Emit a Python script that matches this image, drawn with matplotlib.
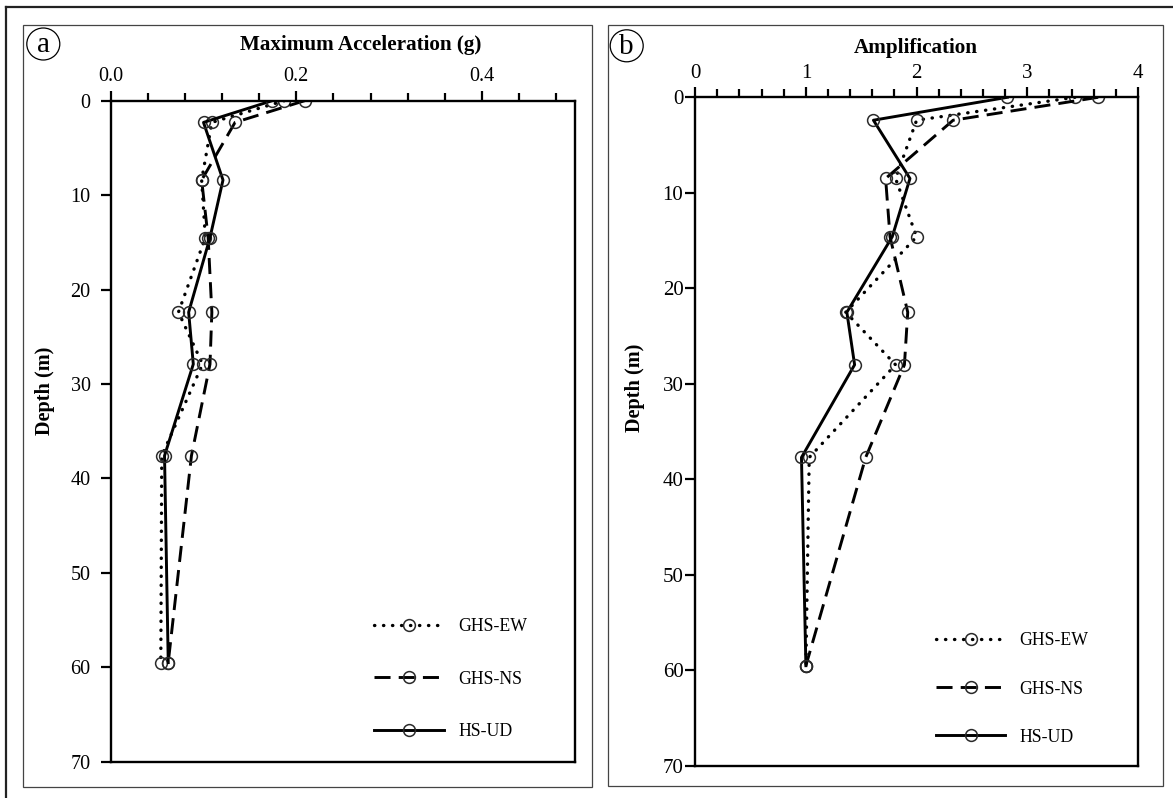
import matplotlib
matplotlib.use("Agg")
import matplotlib.pyplot as plt
from matplotlib.patches import Rectangle, Ellipse
from matplotlib.lines import Line2D
from matplotlib.ticker import MultipleLocator, FormatStrFormatter

plt.rcParams.update({
    "font.family": "Liberation Serif",
    "axes.linewidth": 1.7,
})

# figure size in pixels (saved at dpi=100)
W, H = 1173, 798

# ---- data -----------------------------------------------------------------
series = ["GHS-EW", "GHS-NS", "HS-UD"]

depth_a = [0, 2.3, 8.4, 14.5, 22.4, 27.9, 37.6, 59.5]
acc_ew = [0.187, 0.109, 0.098, 0.102, 0.073, 0.099, 0.055, 0.054]
acc_ns = [0.209, 0.134, 0.098, 0.105, 0.109, 0.107, 0.087, 0.062]
acc_ud = [0.174, 0.100, 0.121, 0.107, 0.084, 0.089, 0.058, 0.062]

depth_b = [0, 2.4, 8.5, 14.6, 22.5, 28.0, 37.7, 59.5]
amp_ew = [3.43, 2.00, 1.81, 2.00, 1.36, 1.81, 1.03, 1.00]
amp_ns = [3.64, 2.33, 1.72, 1.76, 1.92, 1.89, 1.54, 1.00]
amp_ud = [2.82, 1.61, 1.94, 1.78, 1.37, 1.44, 0.96, 1.00]

depth_ticks = [0, 10, 20, 30, 40, 50, 60, 70]

# line style per record
STYLE = {
    "GHS-EW": dict(ls=(0, (0.1, 2.6)), dash_capstyle="round", lw=2.4),
    "GHS-NS": dict(ls=(0, (5.5, 2.8)), lw=2.1),
    "HS-UD": dict(ls="-", lw=2.1),
}
MARK = dict(marker="o", ms=8.5, mfc="none", mec="#2a2a2a", mew=1.1)


def px_rect(left, top, right, bottom):
    return [left / W, 1 - bottom / H, (right - left) / W, (bottom - top) / H]


def fx(x):
    return x / W


def fy(y):
    return 1 - y / H


fig = plt.figure(figsize=(W / 100, H / 100), dpi=100)
ax_a = fig.add_axes(px_rect(110.7, 100.7, 574.7, 761.7))
ax_b = fig.add_axes(px_rect(695.2, 97.3, 1138.0, 766.0))


def draw_panel(ax, depth, vals, xlim, major, minor, fmt, tick_fs, ypad, xpad):
    for name, v in zip(series, vals):
        ax.plot(v, depth, color="k", label=name, **STYLE[name], **MARK)
    ax.set_xlim(*xlim)
    ax.set_ylim(70, 0)
    ax.set_yticks(depth_ticks)
    ax.xaxis.tick_top()
    ax.xaxis.set_major_locator(MultipleLocator(major))
    ax.xaxis.set_minor_locator(MultipleLocator(minor))
    ax.xaxis.set_major_formatter(FormatStrFormatter(fmt))
    ax.tick_params(axis="x", which="major", direction="out", length=7.5, width=1.6,
                   labelsize=tick_fs, pad=xpad)
    ax.tick_params(axis="x", which="minor", direction="out", length=6, width=1.6)
    ax.tick_params(axis="y", which="major", direction="out", length=7, width=1.6,
                   labelsize=tick_fs, pad=ypad)
    for s in ax.spines.values():
        s.set_color("k")


draw_panel(ax_a, depth_a, [acc_ew, acc_ns, acc_ud], (0, 0.5), 0.2, 0.04, "%.1f",
           14.5, 7.5, 3)
draw_panel(ax_b, depth_b, [amp_ew, amp_ns, amp_ud], (0, 4), 1, 0.2, "%d",
           15, 1.5, 3)

# legends (no frame, in the lower right of each panel)
ax_a.legend(loc="center left", bbox_to_anchor=(0.5685, 0.125), frameon=False,
            fontsize=12.8, handlelength=3.9, handletextpad=0.8, labelspacing=2.0,
            borderpad=0, borderaxespad=0, numpoints=1)
ax_b.legend(loc="center left", bbox_to_anchor=(0.5436, 0.115), frameon=False,
            fontsize=12.8, handlelength=3.9, handletextpad=0.8, labelspacing=1.75,
            borderpad=0, borderaxespad=0, numpoints=1)

# titles and axis labels placed as in the reference
fig.text(fx(361), fy(50), "Maximum Acceleration (g)", ha="center", va="baseline",
         fontsize=15.2, fontweight="bold")
fig.text(fx(916), fy(53), "Amplification", ha="center", va="baseline",
         fontsize=15.2, fontweight="bold")
fig.text(fx(45), fy(391), "Depth (m)", rotation=90, ha="center", va="center",
         fontsize=14.6, fontweight="bold")
fig.text(fx(634.6), fy(388), "Depth (m)", rotation=90, ha="center", va="center",
         fontsize=14.6, fontweight="bold")

# circled panel letters
for (cx, cy), letter in [((43.3, 44.0), "a"), ((626.7, 45.8), "b")]:
    fig.add_artist(Ellipse((fx(cx), fy(cy)), 33 / W, 32 / H, transform=fig.transFigure,
                           fill=False, ec="k", lw=0.9))
    fig.text(fx(cx), fy(cy + 1), letter, ha="center", va="center", fontsize=21)

# panel frames and the outer border
for l, t, r, b in [(23.3, 25.0, 591.7, 786.7), (607.9, 25.0, 1162.5, 786.3)]:
    fig.add_artist(Rectangle((fx(l), fy(b)), (r - l) / W, (b - t) / H,
                             transform=fig.transFigure, fill=False, ec="#444444", lw=0.9))
fig.add_artist(Line2D([fx(5.6), 1], [fy(7.3), fy(7.3)], transform=fig.transFigure,
                      color="#222222", lw=1.6))
fig.add_artist(Line2D([fx(5.6), fx(5.6)], [0, fy(7.3)], transform=fig.transFigure,
                      color="#222222", lw=1.6))

fig.savefig("out.png", dpi=100)
